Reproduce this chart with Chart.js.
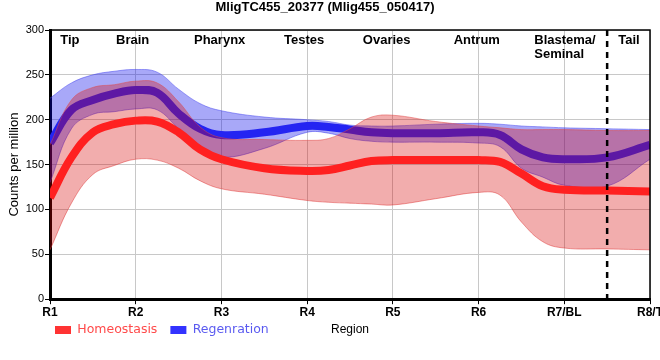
<!DOCTYPE html>
<html>
<head>
<meta charset="utf-8">
<script src="https://cdn.jsdelivr.net/npm/chart.js@4"></script>
<style>
  html, body { margin: 0; padding: 0; background: #fff; }
  #wrap { width: 660px; height: 360px; }
</style>
</head>
<body>
<div id="wrap"><canvas id="chart"></canvas></div>
<script>
// regions along the body, x positions are in "region index" units
const regions = ['R1', 'R2', 'R3', 'R4', 'R5', 'R6', 'R7/BL', 'R8/T'];
const pos = [0, 0.25, 0.5, 0.75, 1, 1.25, 1.5, 1.75, 2, 2.5, 3, 3.25, 3.5, 3.75, 4, 4.5, 5, 5.25, 5.5, 5.75, 6, 6.5, 7];

// Homeostasis
const homMean = [113, 158, 186, 195, 199, 198, 186, 167, 156, 146, 143, 144, 149, 154, 155, 155, 155, 153, 140, 126, 122, 121, 120];
const homHigh = [172, 222, 236, 239, 243, 241, 220, 192, 180, 178, 177, 179, 190, 203, 205, 198, 193, 191, 189, 189, 189, 188, 188];
const homLow  = [55, 107, 139, 149, 156, 155, 146, 132, 123, 117, 110, 108, 107, 106, 105, 112, 119, 116, 86, 64, 57, 56, 55];

// Regeneration
const regMean = [174, 211, 222, 229, 233, 230, 207, 190, 183, 186, 193, 192, 189, 186, 185, 185, 186, 183, 167, 158, 156, 158, 172];
const regHigh = [224, 241, 250, 254, 256, 253, 234, 218, 210, 203, 200, 198, 194, 193, 193, 195, 196, 195, 193, 192, 191, 190, 189];
const regLow  = [130, 190, 206, 209, 212, 211, 190, 169, 158, 168, 186, 185, 179, 176, 175, 175, 174, 170, 146, 136, 127, 126, 156];

// organ names printed at the top of the plot, left edge in region units
const organs = [['Tip'], ['Brain'], ['Pharynx'], ['Testes'], ['Ovaries'], ['Antrum'], ['Blastema/', 'Seminal'], ['Tail']];
const organAt = [0.12, 0.77, 1.68, 2.73, 3.65, 4.71, 5.65, 6.63];
const tailCut = 6.5;

const xy = vals => vals.map((v, i) => ({ x: pos[i], y: v }));

const line = (label, vals, color) => ({
  label: label,
  data: xy(vals),
  borderColor: color,
  backgroundColor: color,
  borderWidth: 8,
  fill: false,
  pointRadius: 0,
  pointHoverRadius: 0,
  tension: 0.4
});

const edge = (label, vals, edgeColor, fill, bg) => ({
  label: label,
  data: xy(vals),
  borderColor: edgeColor,
  backgroundColor: bg || 'transparent',
  borderWidth: 1,
  fill: fill,
  pointRadius: 0,
  pointHoverRadius: 0,
  tension: 0.4
});

// annotations: frame on top/right, dashed tail cut, organ names
const extras = {
  id: 'extras',
  afterLayout(chart) {
    // legend shares the row with the x axis title
    chart.legend.left = 42;
    chart.legend.top = 310.75;
  },
  afterDraw(chart) {
    const { ctx, chartArea: a, scales } = chart;
    ctx.save();
    ctx.strokeStyle = '#000';
    ctx.lineWidth = 1.5;
    ctx.beginPath();
    ctx.moveTo(a.left, a.top);
    ctx.lineTo(a.right, a.top);
    ctx.lineTo(a.right, a.bottom);
    ctx.stroke();

    const xc = scales.x.getPixelForValue(tailCut);
    ctx.lineWidth = 2.5;
    ctx.setLineDash([6, 5]);
    ctx.beginPath();
    ctx.moveTo(xc, a.top);
    ctx.lineTo(xc, a.bottom);
    ctx.stroke();
    ctx.setLineDash([]);

    ctx.fillStyle = '#000';
    ctx.font = 'bold 13px "Liberation Sans", Arial, sans-serif';
    ctx.textAlign = 'left';
    ctx.textBaseline = 'alphabetic';
    organs.forEach((lines, i) => {
      const x = scales.x.getPixelForValue(organAt[i]);
      lines.forEach((t, j) => ctx.fillText(t, x, a.top + 14 + j * 14));
    });
    ctx.restore();
  }
};

new Chart(document.getElementById('chart'), {
  type: 'line',
  data: {
    datasets: [
      line('Homeostasis', homMean, '#ff2020'),
      edge('homHigh', homHigh, 'rgba(225,70,70,0.5)', '+1', 'rgba(215,0,0,0.32)'),
      edge('homLow', homLow, 'rgba(225,70,70,0.5)', false),
      line('Regenration', regMean, '#2424f2'),
      edge('regHigh', regHigh, 'rgba(70,70,240,0.5)', '+1', 'rgba(0,0,235,0.34)'),
      edge('regLow', regLow, 'rgba(70,70,240,0.5)', false)
    ]
  },
  options: {
    responsive: true,
    maintainAspectRatio: false,
    animation: false,
    devicePixelRatio: 1,
    layout: { padding: { left: 0, right: 10, top: 0, bottom: 22 } },
    plugins: {
      title: {
        display: true,
        text: 'MligTC455_20377 (Mlig455_050417)',
        color: '#000',
        font: { family: '"Liberation Sans", Arial, sans-serif', size: 13, weight: 'bold' },
        padding: { top: 0, bottom: 14.4 }
      },
      legend: {
        position: 'bottom',
        align: 'start',
        maxHeight: 1,
        labels: {
          boxWidth: 16,
          boxHeight: 8,
          padding: 13,
          font: { family: '"DejaVu Sans", sans-serif', size: 12.5 },
          generateLabels: () => [
            { text: 'Homeostasis', fillStyle: '#ff3333', strokeStyle: '#ff3333', lineWidth: 0, fontColor: '#ff4a4a', hidden: false, datasetIndex: 0 },
            { text: 'Regenration', fillStyle: '#3333ff', strokeStyle: '#3333ff', lineWidth: 0, fontColor: '#5a5af0', hidden: false, datasetIndex: 3 }
          ]
        }
      },
      tooltip: { enabled: false }
    },
    scales: {
      x: {
        type: 'linear',
        min: 0,
        max: 7,
        afterFit: s => { s.paddingRight = 0; s.paddingLeft = 0; },
        ticks: {
          stepSize: 1,
          autoSkip: false,
          maxRotation: 0,
          padding: 1,
          color: '#000',
          font: { family: '"Liberation Sans", Arial, sans-serif', size: 12, weight: 'bold' },
          callback: v => regions[v]
        },
        grid: { color: '#c8c8c8', tickColor: '#000', tickLength: 5 },
        border: { color: '#000', width: 3 },
        title: {
          display: true,
          text: 'Region',
          color: '#000',
          font: { family: '"Liberation Sans", Arial, sans-serif', size: 12 },
          padding: { top: 2, bottom: 0 }
        }
      },
      y: {
        min: 0,
        max: 300,
        afterFit: s => { s.width = 50; },
        ticks: {
          stepSize: 50,
          padding: 1,
          color: '#000',
          font: { family: '"Liberation Sans", Arial, sans-serif', size: 11 }
        },
        grid: { color: '#c8c8c8', tickColor: '#000', tickLength: 5 },
        border: { color: '#000', width: 3 },
        title: {
          display: true,
          text: 'Counts per million',
          color: '#000',
          font: { family: '"Liberation Sans", Arial, sans-serif', size: 13 },
          padding: { top: 7, bottom: 0 }
        }
      }
    }
  },
  plugins: [extras]
});
</script>
</body>
</html>
